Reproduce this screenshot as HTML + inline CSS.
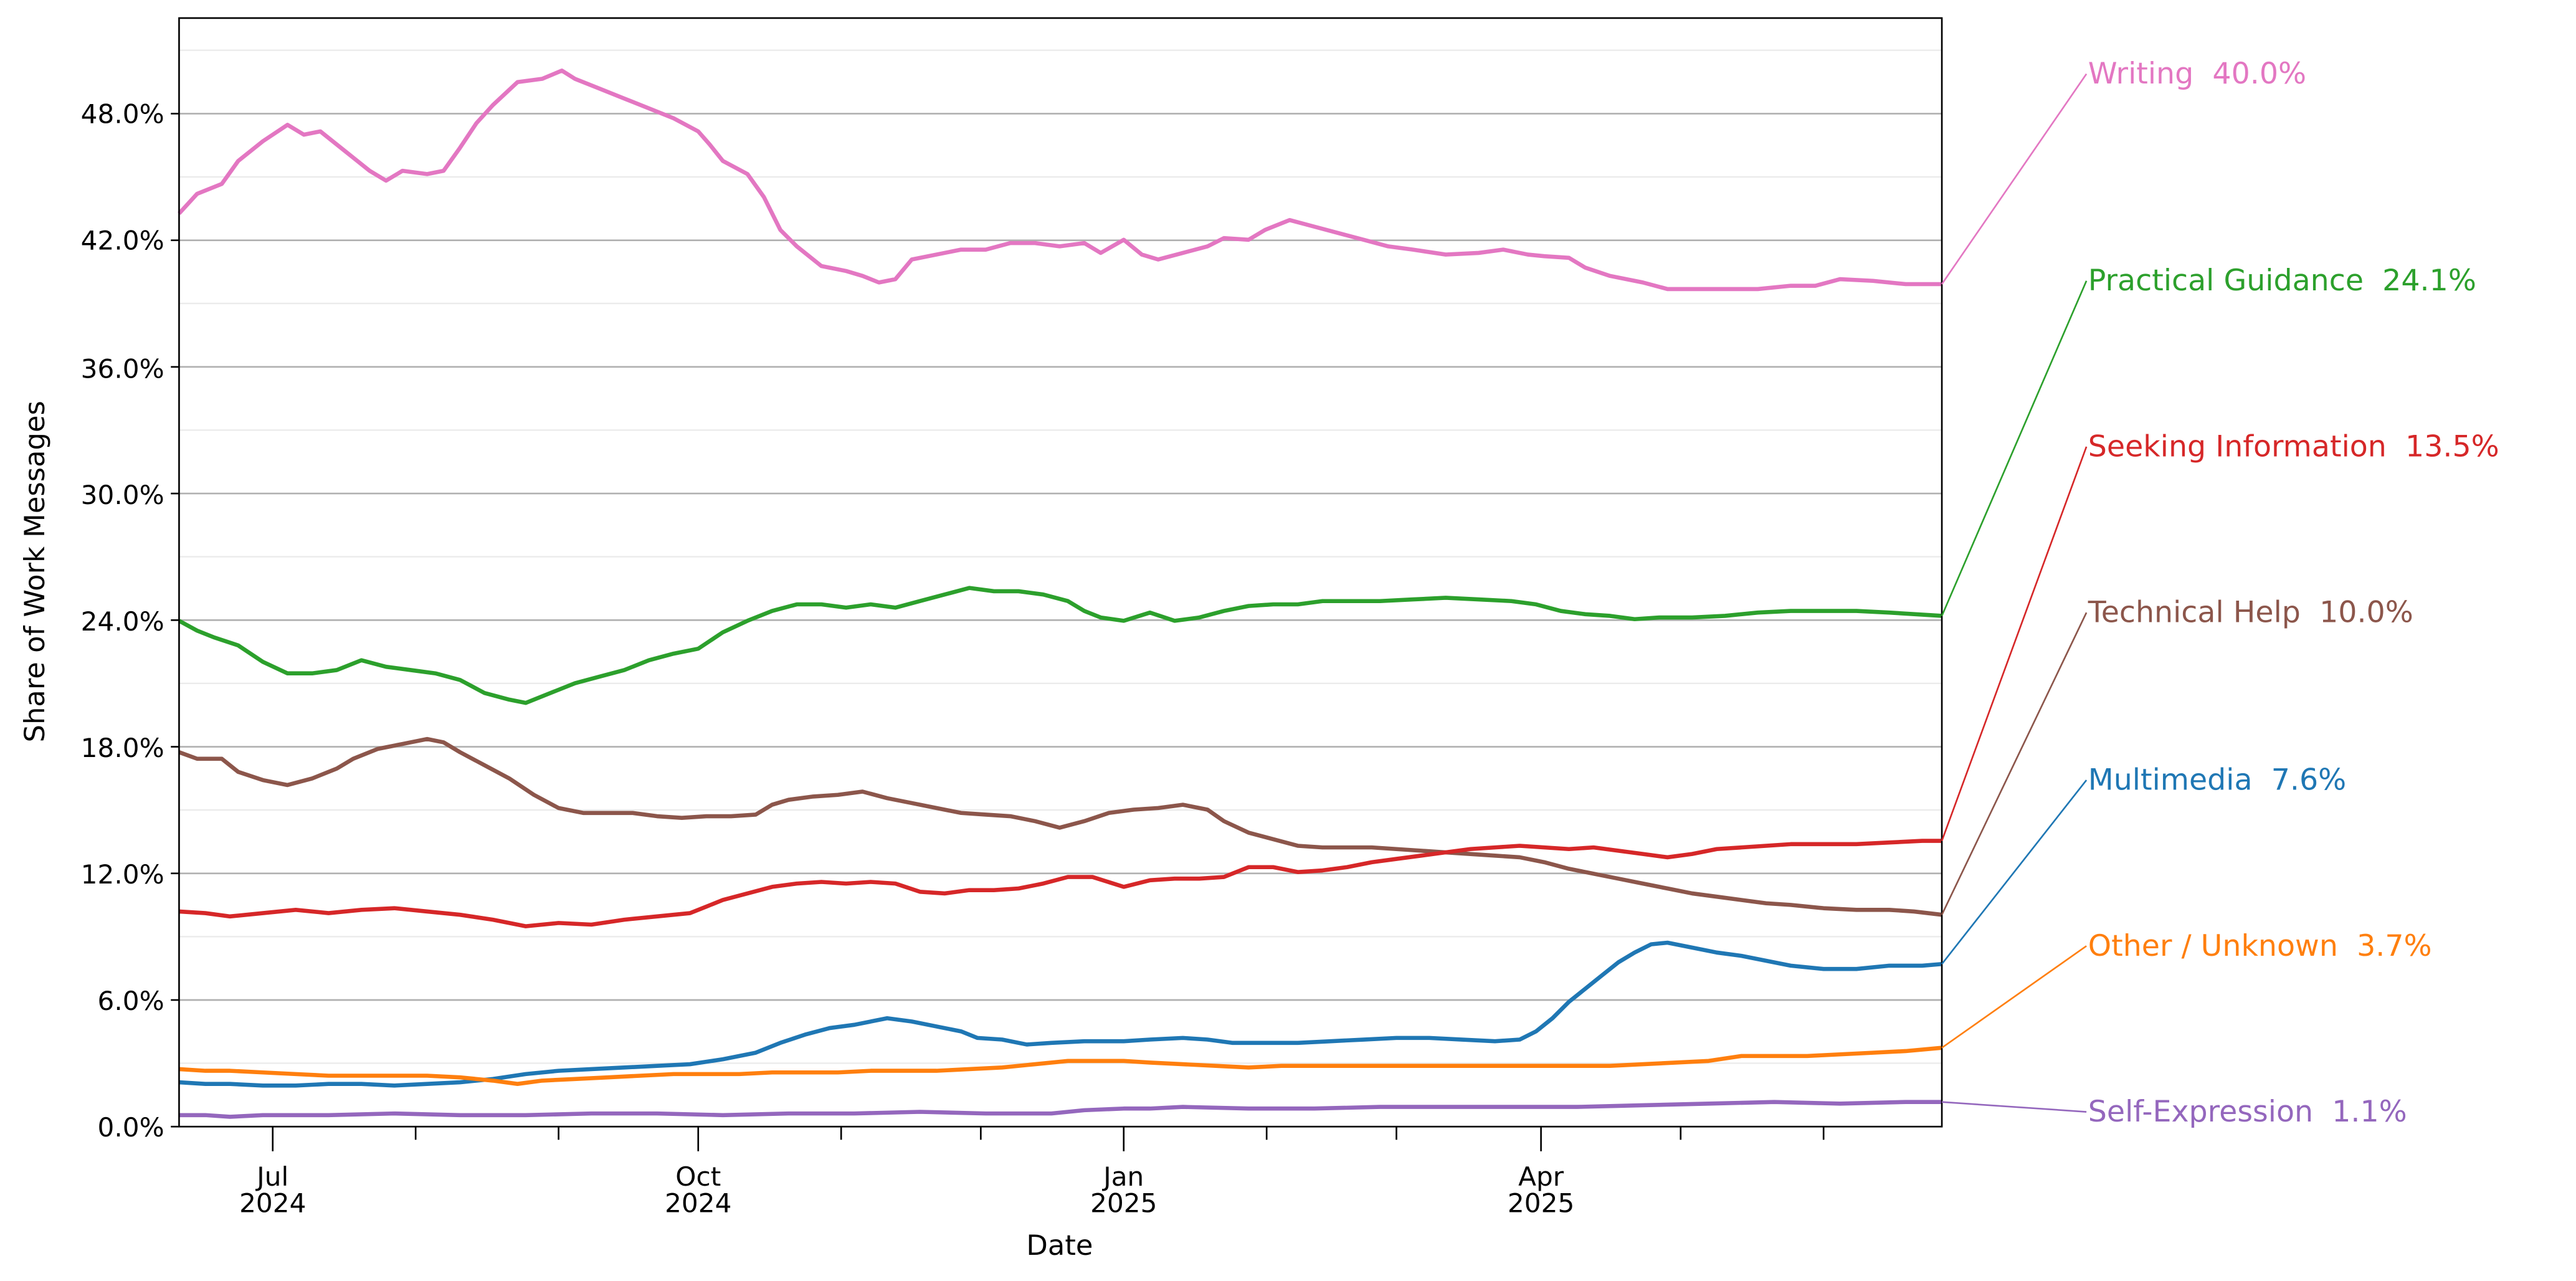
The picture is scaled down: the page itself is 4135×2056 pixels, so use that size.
<!DOCTYPE html>
<html><head><meta charset="utf-8"><style>html,body{margin:0;padding:0;background:#fff}svg{display:block}</style></head>
<body>
<svg width="4135" height="2056" viewBox="0 0 1568 780" preserveAspectRatio="none" xmlns="http://www.w3.org/2000/svg" font-family="'DejaVu Sans','Liberation Sans',sans-serif">
<rect width="1568" height="780" fill="#fff"/>
<g stroke="#ebebeb" stroke-width="0.9">
<line x1="109" x2="1182" y1="647.4" y2="647.4"/><line x1="109" x2="1182" y1="570.3" y2="570.3"/><line x1="109" x2="1182" y1="493.2" y2="493.2"/><line x1="109" x2="1182" y1="416.1" y2="416.1"/><line x1="109" x2="1182" y1="339" y2="339"/><line x1="109" x2="1182" y1="261.9" y2="261.9"/><line x1="109" x2="1182" y1="184.8" y2="184.8"/><line x1="109" x2="1182" y1="107.7" y2="107.7"/><line x1="109" x2="1182" y1="30.6" y2="30.6"/>
</g>
<g stroke="#b0b0b0" stroke-width="1">
<line x1="109" x2="1182" y1="608.9" y2="608.9"/><line x1="109" x2="1182" y1="531.8" y2="531.8"/><line x1="109" x2="1182" y1="454.7" y2="454.7"/><line x1="109" x2="1182" y1="377.6" y2="377.6"/><line x1="109" x2="1182" y1="300.5" y2="300.5"/><line x1="109" x2="1182" y1="223.4" y2="223.4"/><line x1="109" x2="1182" y1="146.3" y2="146.3"/><line x1="109" x2="1182" y1="69.2" y2="69.2"/>
</g>
<g fill="none" stroke-width="2.5" stroke-linejoin="round">
<polyline stroke="#e377c2" points="109,130 120,118 135,112 145,98 160,86 175,76 185,82 195,80 210,92 225,104 235,110 245,104 260,106 270,104 280,90 290,75 300,64 315,50 330,48 342,43 350,48 365,54 380,60 395,66 410,72 425,80 432,88 440,98 455,106 465,120 475,140 485,150 500,162 515,165 525,168 535,172 545,170 555,158 570,155 585,152 600,152 615,148 630,148 645,150 660,148 670,154 684,146 695,155 705,158 720,154 735,150 745,145 760,146 770,140 785,134 800,138 815,142 830,146 845,150 860,152 880,155 900,154 915,152 930,155 940,156 955,157 965,163 980,168 1000,172 1015,176 1030,176 1050,176 1070,176 1090,174 1105,174 1120,170 1140,171 1160,173 1182,173"/>
<polyline stroke="#2ca02c" points="109,378 120,384 130,388 145,393 160,403 175,410 190,410 205,408 220,402 235,406 250,408 265,410 280,414 295,422 310,426 320,428 335,422 350,416 365,412 380,408 395,402 410,398 425,395 440,385 455,378 470,372 485,368 500,368 515,370 530,368 545,370 560,366 575,362 590,358 605,360 620,360 635,362 650,366 660,372 670,376 684,378 700,373 715,378 730,376 745,372 760,369 775,368 790,368 805,366 820,366 840,366 860,365 880,364 900,365 920,366 935,368 950,372 965,374 980,375 995,377 1010,376 1030,376 1050,375 1070,373 1090,372 1110,372 1130,372 1150,373 1182,375"/>
<polyline stroke="#8c564b" points="109,458 120,462 135,462 145,470 160,475 175,478 190,474 205,468 215,462 230,456 245,453 260,450 270,452 280,458 295,466 310,474 325,484 340,492 355,495 370,495 385,495 400,497 415,498 430,497 445,497 460,496 470,490 480,487 495,485 510,484 525,482 540,486 555,489 570,492 585,495 600,496 615,497 630,500 645,504 660,500 675,495 690,493 705,492 720,490 735,493 745,500 760,507 775,511 790,515 805,516 820,516 835,516 850,517 865,518 880,519 895,520 910,521 925,522 940,525 955,529 970,532 985,535 1000,538 1015,541 1030,544 1045,546 1060,548 1075,550 1090,551 1110,553 1130,554 1150,554 1165,555 1182,557"/>
<polyline stroke="#d62728" points="109,555 125,556 140,558 160,556 180,554 200,556 220,554 240,553 260,555 280,557 300,560 320,564 340,562 360,563 380,560 400,558 420,556 430,552 440,548 455,544 470,540 485,538 500,537 515,538 530,537 545,538 560,543 575,544 590,542 605,542 620,541 635,538 650,534 665,534 684,540 700,536 715,535 730,535 745,534 760,528 775,528 790,531 805,530 820,528 835,525 850,523 865,521 880,519 895,517 910,516 925,515 940,516 955,517 970,516 985,518 1000,520 1015,522 1030,520 1045,517 1060,516 1075,515 1090,514 1110,514 1130,514 1150,513 1170,512 1182,512"/>
<polyline stroke="#1f77b4" points="109,659 125,660 140,660 160,661 180,661 200,660 220,660 240,661 260,660 280,659 300,657 320,654 340,652 360,651 380,650 400,649 420,648 440,645 460,641 475,635 490,630 505,626 520,624 540,620 555,622 570,625 585,628 595,632 610,633 625,636 640,635 660,634 684,634 700,633 720,632 735,633 750,635 770,635 790,635 810,634 830,633 850,632 870,632 890,633 910,634 925,633 935,628 945,620 955,610 965,602 975,594 985,586 995,580 1005,575 1015,574 1030,577 1045,580 1060,582 1075,585 1090,588 1110,590 1130,590 1150,588 1170,588 1182,587"/>
<polyline stroke="#ff7f0e" points="109,651 125,652 140,652 160,653 180,654 200,655 220,655 240,655 260,655 280,656 300,658 315,660 330,658 350,657 370,656 390,655 410,654 430,654 450,654 470,653 490,653 510,653 530,652 550,652 570,652 590,651 610,650 630,648 650,646 670,646 684,646 700,647 720,648 740,649 760,650 780,649 800,649 840,649 880,649 920,649 960,649 980,649 1000,648 1020,647 1040,646 1060,643 1080,643 1100,643 1120,642 1140,641 1160,640 1182,638"/>
<polyline stroke="#9467bd" points="109,679 125,679 140,680 160,679 200,679 240,678 280,679 320,679 360,678 400,678 440,679 480,678 520,678 560,677 600,678 640,678 660,676 684,675 700,675 720,674 760,675 800,675 840,674 880,674 920,674 960,674 1000,673 1040,672 1080,671 1120,672 1160,671 1182,671"/>
</g>
<rect x="109" y="11" width="1073" height="675" fill="none" stroke="#000" stroke-width="1"/>
<g stroke="#000" stroke-width="1">
<line x1="166" x2="166" y1="686" y2="701"/><line x1="425" x2="425" y1="686" y2="701"/><line x1="684" x2="684" y1="686" y2="701"/><line x1="938" x2="938" y1="686" y2="701"/>
<line x1="253" x2="253" y1="686" y2="694"/><line x1="340" x2="340" y1="686" y2="694"/><line x1="512" x2="512" y1="686" y2="694"/><line x1="597" x2="597" y1="686" y2="694"/><line x1="771" x2="771" y1="686" y2="694"/><line x1="850" x2="850" y1="686" y2="694"/><line x1="1023" x2="1023" y1="686" y2="694"/><line x1="1110" x2="1110" y1="686" y2="694"/>
<line x1="104" x2="109" y1="686" y2="686"/><line x1="104" x2="109" y1="608.9" y2="608.9"/><line x1="104" x2="109" y1="531.8" y2="531.8"/><line x1="104" x2="109" y1="454.7" y2="454.7"/><line x1="104" x2="109" y1="377.6" y2="377.6"/><line x1="104" x2="109" y1="300.5" y2="300.5"/><line x1="104" x2="109" y1="223.4" y2="223.4"/><line x1="104" x2="109" y1="146.3" y2="146.3"/><line x1="104" x2="109" y1="69.2" y2="69.2"/>
</g>
<g font-size="16" fill="#000" text-anchor="end">
<text x="100" y="692">0.0%</text><text x="100" y="615">6.0%</text><text x="100" y="538">12.0%</text><text x="100" y="461">18.0%</text><text x="100" y="384">24.0%</text><text x="100" y="307">30.0%</text><text x="100" y="230">36.0%</text><text x="100" y="152">42.0%</text><text x="100" y="75">48.0%</text>
</g>
<g font-size="16" fill="#000" text-anchor="middle">
<text x="166" y="722">Jul</text><text x="166" y="738">2024</text>
<text x="425" y="722">Oct</text><text x="425" y="738">2024</text>
<text x="684" y="722">Jan</text><text x="684" y="738">2025</text>
<text x="938" y="722">Apr</text><text x="938" y="738">2025</text>
<text x="645" y="764" font-size="17">Date</text>
<text transform="translate(27,348) rotate(-90)" font-size="17">Share of Work Messages</text>
</g>
<g stroke-width="1">
<line x1="1182" y1="173" x2="1270" y2="45" stroke="#e377c2"/>
<line x1="1182" y1="375" x2="1270" y2="171" stroke="#2ca02c"/>
<line x1="1182" y1="512" x2="1270" y2="272" stroke="#d62728"/>
<line x1="1182" y1="557" x2="1270" y2="373" stroke="#8c564b"/>
<line x1="1182" y1="587" x2="1270" y2="475" stroke="#1f77b4"/>
<line x1="1182" y1="638" x2="1270" y2="576" stroke="#ff7f0e"/>
<line x1="1182" y1="671" x2="1270" y2="677" stroke="#9467bd"/>
</g>
<g font-size="18" dominant-baseline="central">
<text x="1271" y="45" fill="#e377c2">Writing&#160;&#160;40.0%</text>
<text x="1271" y="171" fill="#2ca02c">Practical Guidance&#160;&#160;24.1%</text>
<text x="1271" y="272" fill="#d62728">Seeking Information&#160;&#160;13.5%</text>
<text x="1271" y="373" fill="#8c564b">Technical Help&#160;&#160;10.0%</text>
<text x="1271" y="475" fill="#1f77b4">Multimedia&#160;&#160;7.6%</text>
<text x="1271" y="576" fill="#ff7f0e">Other / Unknown&#160;&#160;3.7%</text>
<text x="1271" y="677" fill="#9467bd">Self-Expression&#160;&#160;1.1%</text>
</g>
</svg>
</body></html>
